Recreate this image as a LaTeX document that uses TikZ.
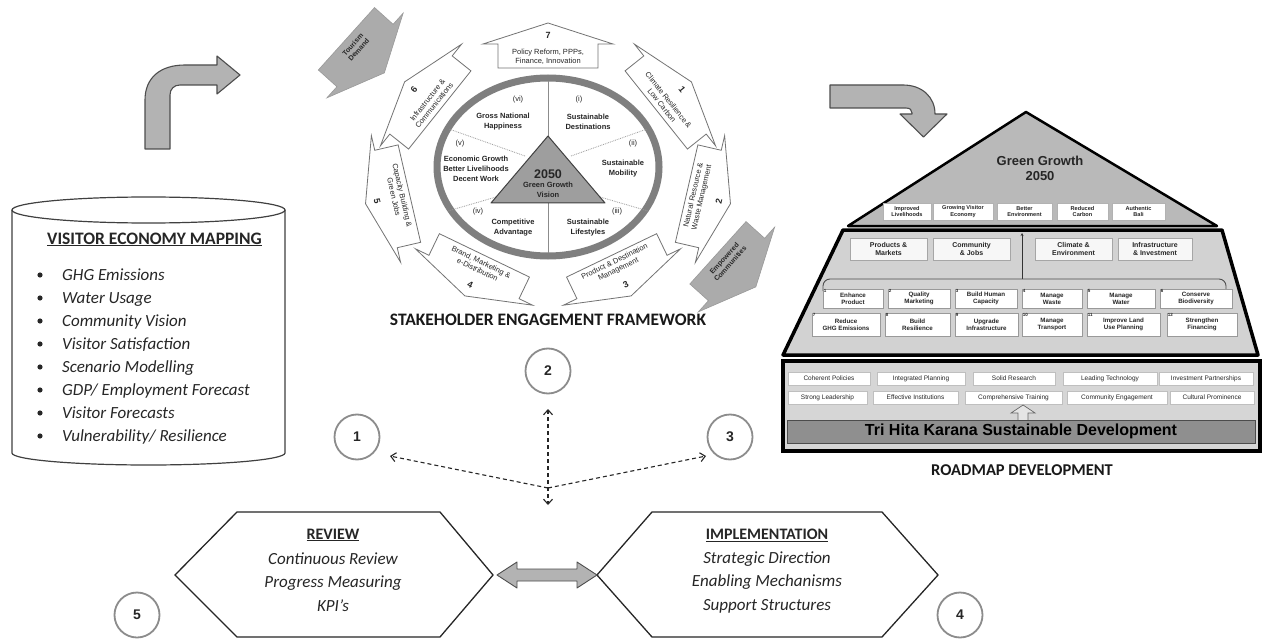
\documentclass[tikz,border=0pt]{standalone}
\usepackage{fontspec}
\setmainfont{Liberation Sans}
\newfontfamily\calib{Carlito}
\usetikzlibrary{arrows.meta}
\definecolor{txt}{HTML}{262626}
\definecolor{arrfill}{HTML}{B3B3B3}
\definecolor{arrline}{HTML}{4D4D4D}
\definecolor{ringc}{HTML}{7F7F7F}
\definecolor{trifill}{HTML}{B9B9B9}
\definecolor{trapfill}{HTML}{D2D2D2}
\definecolor{fndfill}{HTML}{D6D6D6}
\definecolor{bandfill}{HTML}{8F8F8F}
\newcommand{\myhup}[5]{\draw[#5] (-#1,#2) -- (-#1,0) -- (-#3,0) -- (0,-#4) -- (#3,0) -- (#1,0) -- (#1,#2) -- cycle;}
\newcommand{\myhdown}[5]{\draw[#5] (-#1,-#2) -- (-#1,0) -- (-#3,0) -- (0,#4) -- (#3,0) -- (#1,0) -- (#1,-#2) -- cycle;}
\begin{document}
\begin{tikzpicture}[x=1pt,y=-1pt,
  wbox/.style={draw=black!55, fill=white, line width=0.8pt},
  gbox/.style={draw=black!40, fill=black!33, line width=0.6pt},
  blockarr/.style={draw=arrline, fill=arrfill, line width=1.1pt, line join=round},
  btxt/.style={font=\fontsize{7.5}{8.6}\selectfont, align=center, inner sep=0pt, text=txt},
  bnum/.style={font=\bfseries\fontsize{9}{9}\selectfont, inner sep=0pt, text=txt},
  gtxt/.style={font=\bfseries\fontsize{7}{8}\selectfont, align=center, inner sep=0pt, text=txt},
  sect/.style={font=\bfseries\fontsize{7.5}{10}\selectfont, align=center, inner sep=0pt, text=txt},
  roman/.style={font=\fontsize{7.5}{8}\selectfont, inner sep=0pt, text=txt},
  cnum/.style={circle, draw=black!45, line width=1.8pt, minimum size=45pt, inner sep=0pt, font=\bfseries\fontsize{14}{14}\selectfont, text=txt},
  title/.style={font=\calib\bfseries\fontsize{17.5}{20}\selectfont, inner sep=0pt, text=black!90},
  bullet/.style={anchor=base west, font=\calib\itshape\fontsize{17}{20}\selectfont, inner sep=0pt, text=txt},
  hexa/.style={draw=black!85, line width=1.3pt, fill=white},
  dsh/.style={draw=black!85, line width=1.1pt, dash pattern=on 4pt off 3pt},
  dtip/.tip={Straight Barb[length=5pt,width=9pt]},
  cyl/.style={draw=black!75, line width=1.2pt, fill=white},
  smallbox/.style={draw=black!30, fill=white, inner sep=0pt, align=center, font=\bfseries\fontsize{5.6}{6.2}\selectfont, text=txt},
  capbox/.style={draw=black!35, fill=black!3, inner sep=0pt, align=center, font=\bfseries\fontsize{7}{8}\selectfont, text=txt},
  rbox/.style={draw=black!40, fill=white, inner sep=0pt, align=center, font=\bfseries\fontsize{6.2}{7}\selectfont, text=txt},
  numlab/.style={anchor=north west, inner sep=0.8pt, font=\bfseries\fontsize{4.5}{4.5}\selectfont, text=txt},
  fbox/.style={draw=black!25, fill=white, inner sep=0pt, font=\fontsize{6.5}{7}\selectfont, text=txt}
]
\useasboundingbox (0,0) rectangle (1263,639);
\fill[white] (0,0) rectangle (1263,639);
\begin{scope}
\clip (0,0) rectangle (1263,639);

% ---------------- block arrows top ----------------
\draw[blockarr] (145,149) -- (145,100) .. controls (145,78) and (160,65) .. (185,65) -- (217,65) -- (217,56) -- (240,75) -- (217,94) -- (217,85) -- (180,85) .. controls (174,85) and (170,89) .. (170,95) -- (170,149) -- cycle;
\draw[blockarr] (830,85) -- (903,85) .. controls (922,85) and (935,97) .. (935,114) -- (947,114) -- (923.5,137) -- (900,114) -- (912,114) -- (912,113) .. controls (912,110) and (910,108) .. (906,108) -- (830,108) -- cycle;

% ---------------- cylinder ----------------
\draw[cyl] (12,210) -- (12,453) arc[start angle=180, end angle=0, x radius=136.5, y radius=12] -- (285,210);
\draw[cyl] (148.5,210) ellipse [x radius=136.5, y radius=13];
\node[anchor=base west, font=\calib\bfseries\fontsize{17.5}{20}\selectfont, inner sep=0pt, text=txt] (vem) at (47,244) {\underline{VISITOR ECONOMY MAPPING}};
\foreach \t [count=\i] in {GHG Emissions, Water Usage, Community Vision, Visitor Satisfaction, Scenario Modelling, GDP/ Employment Forecast, Visitor Forecasts, Vulnerability/ Resilience}{
  \node[bullet] (v\i) at (62,{280.5+23*(\i-1)}) {\t};
  \fill[txt] (40,{275+23*(\i-1)}) circle[radius=2.6];
}

% ---------------- wheel ----------------
\fill[white] (548,167) ellipse [x radius=111, y radius=89];
\draw[ringc, line width=7pt] (548,167) ellipse [x radius=111, y radius=89];
\draw[black!45, line width=0.9pt] (548,81) -- (548,136);
\draw[black!45, line width=0.9pt] (548,203) -- (548,253);
\draw[black!40, densely dotted, line width=0.8pt] (525,156) -- (449,129);
\draw[black!40, densely dotted, line width=0.8pt] (571,156) -- (647,129);
\draw[black!40, densely dotted, line width=0.8pt] (496,197) -- (448,211);
\draw[black!40, densely dotted, line width=0.8pt] (600,197) -- (648,211);
\draw[draw=black!75, fill=black!38, line width=1pt, line join=round] (548,136) -- (605,203) -- (491,203) -- cycle;
\node[font=\bfseries\fontsize{12.5}{13}\selectfont, inner sep=0pt, text=txt] (vyear) at (548,174) {2050};
\node[sect] (vis) at (548,190) {Green Growth\\Vision};

\node[roman] (r6) at (518,100) {(vi)};
\node[sect] (s6) at (503,122) {Gross National\\Happiness};
\node[roman] (r1) at (579,100) {(i)};
\node[sect] (s1) at (588,122) {Sustainable\\Destinations};
\node[roman] (r2) at (633,144) {(ii)};
\node[sect] (s2) at (623,169) {Sustainable\\Mobility};
\node[roman] (r3) at (617,212) {(iii)};
\node[sect] (s3) at (588,228) {Sustainable\\Lifestyles};
\node[roman] (r4) at (478,212) {(iv)};
\node[sect] (s4) at (513,228) {Competitive\\Advantage};
\node[roman] (r5) at (460,144) {(v)};
\node[sect] (s5) at (476,169) {Economic Growth\\Better Livelihoods\\Decent Work};

% ---------------- outer arrow boxes ----------------
\begin{scope}[shift={(548,44)}]
  \myhup{50}{24}{65}{21}{wbox}
  \node[bnum] (n7) at (0,-9) {7};
  \node[btxt] (b7) at (0,12.5) {Policy Reform, PPPs,\\Finance, Innovation};
\end{scope}
\begin{scope}[shift={(675,95)}, rotate=-51.4, transform shape]
  \myhup{50}{24}{65}{21}{wbox}
  \node[bnum] (n1) at (0,-9) {1};
  \node[btxt] (b1) at (0,12.5) {Climate Resilience \&\\Low Carbon};
\end{scope}
\begin{scope}[shift={(421,95)}, rotate=51.4, transform shape]
  \myhup{50}{24}{65}{21}{wbox}
  \node[bnum] (n6) at (0,-9) {6};
  \node[btxt] (b6) at (0,12.5) {Infrastructure \&\\Communications};
\end{scope}
\begin{scope}[shift={(710,199)}, rotate=77, transform shape]
  \myhdown{50}{24}{65}{21}{wbox}
  \node[bnum] (n2) at (0,9) {2};
  \node[btxt] (b2) at (0,-12.5) {Natural Resource \&\\Waste Management};
\end{scope}
\begin{scope}[shift={(386,199)}, rotate=-77, transform shape]
  \myhdown{50}{24}{65}{21}{wbox}
  \node[bnum] (n5) at (0,9) {5};
  \node[btxt] (b5) at (0,-12.5) {Capacity Building \&\\Green Jobs};
\end{scope}
\begin{scope}[shift={(622,277)}, rotate=25.7, transform shape]
  \myhdown{50}{24}{65}{21}{wbox}
  \node[bnum] (n3) at (0,9) {3};
  \node[btxt] (b3) at (0,-12.5) {Product \& Destination\\Management};
\end{scope}
\begin{scope}[shift={(474,277)}, rotate=-25.7, transform shape]
  \myhdown{50}{24}{65}{21}{wbox}
  \node[bnum] (n4) at (0,9) {4};
  \node[btxt] (b4) at (0,-12.5) {Brand, Marketing \&\\e-Distribution};
\end{scope}

% gray arrows
\begin{scope}[shift={(365,55.5)}, rotate=48, transform shape]
  \myhdown{42}{25}{57}{26}{gbox}
  \node[gtxt] (tour) at (0,-12.5) {Tourism\\Demand};
\end{scope}
\begin{scope}[shift={(736.5,269.5)}, rotate=48, transform shape]
  \myhdown{42}{25}{57}{26}{gbox}
  \node[gtxt] (emp) at (0,-12.5) {Empowered\\Communities};
\end{scope}

\node[title] (sef) at (548,320) {STAKEHOLDER ENGAGEMENT FRAMEWORK};

% ---------------- pyramid ----------------
\draw[draw=black, fill=trifill, line width=2.5pt, line join=round] (1026,112) -- (1217,226) -- (848,226) -- cycle;
\node[font=\bfseries\fontsize{13}{15}\selectfont, align=center, inner sep=0pt, text=txt] (gg) at (1040,168) {Green Growth\\2050};
\node[smallbox, minimum width=48pt, minimum height=17pt] (t1) at (907,211.5) {Improved\\Livelihoods};
\node[smallbox, minimum width=60pt, minimum height=17pt] (t2) at (963,211.5) {Growing Visitor\\Economy};
\node[smallbox, minimum width=55pt, minimum height=17pt] (t3) at (1024.5,211.5) {Better\\Environment};
\node[smallbox, minimum width=51pt, minimum height=17pt] (t4) at (1082.5,211.5) {Reduced\\Carbon};
\node[smallbox, minimum width=53pt, minimum height=17pt] (t5) at (1138.5,211.5) {Authentic\\Bali};

\draw[draw=black, fill=trapfill, line width=3.5pt, line join=round] (843,230) -- (1222,230) -- (1258,355) -- (783,355) -- cycle;
\node[capbox, minimum width=77pt, minimum height=22pt] (pm) at (888.5,249) {Products \&\\Markets};
\node[capbox, minimum width=77pt, minimum height=22pt] (cj) at (971.5,249) {Community\\\& Jobs};
\node[capbox, minimum width=77pt, minimum height=22pt] (ce) at (1073.5,249) {Climate \&\\Environment};
\node[capbox, minimum width=74pt, minimum height=22pt] (ii) at (1155,249) {Infrastructure\\\& Investment};
\coordinate (vb) at (1022,279);
\coordinate (vt) at (1022,233);
\draw[black!80, line width=0.8pt, -{Stealth[length=3pt,width=3pt]}] (vb) -- (vt);
\draw[black!70, line width=0.9pt, rounded corners=7pt] (823,291) -- (823,279) -- (1226,279) -- (1226,291);

\node[rbox, minimum width=60pt, minimum height=19pt, label={[numlab]north west:1}] (a1) at (853,298.5) {Enhance\\Product};
\node[rbox, minimum width=62pt, minimum height=19pt, label={[numlab]north west:2}] (a2) at (919,298.5) {Quality\\Marketing};
\node[rbox, minimum width=62pt, minimum height=19pt, label={[numlab]north west:3}] (a3) at (986,298.5) {Build Human\\Capacity};
\node[rbox, minimum width=60pt, minimum height=19pt, label={[numlab]north west:4}] (a4) at (1052,298.5) {Manage\\Waste};
\node[rbox, minimum width=68pt, minimum height=19pt, label={[numlab]north west:5}] (a5) at (1121,298.5) {Manage\\Water};
\node[rbox, minimum width=72pt, minimum height=19pt, label={[numlab]north west:6}] (a6) at (1196,298.5) {Conserve\\Biodiversity};
\node[rbox, minimum width=68pt, minimum height=23pt, label={[numlab]north west:7}] (a7) at (846,324.5) {Reduce\\GHG Emissions};
\node[rbox, minimum width=65pt, minimum height=23pt, label={[numlab]north west:8}] (a8) at (917.5,324.5) {Build\\Resilience};
\node[rbox, minimum width=63pt, minimum height=23pt, label={[numlab]north west:9}] (a9) at (986.5,324.5) {Upgrade\\Infrastructure};
\node[rbox, minimum width=60pt, minimum height=23pt, label={[numlab]north west:10}] (a10) at (1052,324.5) {Manage\\Transport};
\node[rbox, minimum width=73pt, minimum height=23pt, label={[numlab]north west:11}] (a11) at (1123.5,324.5) {Improve Land\\Use Planning};
\node[rbox, minimum width=70pt, minimum height=23pt, label={[numlab]north west:12}] (a12) at (1202,324.5) {Strengthen\\Financing};

% foundation
\draw[draw=black, fill=fndfill, line width=3.5pt] (783,361) rectangle (1260,451);
\node[fbox, minimum width=82pt, minimum height=13pt] (f1) at (829,378.5) {Coherent Policies};
\node[fbox, minimum width=88pt, minimum height=13pt] (f2) at (921,378.5) {Integrated Planning};
\node[fbox, minimum width=82pt, minimum height=13pt] (f3) at (1014,378.5) {Solid Research};
\node[fbox, minimum width=94pt, minimum height=13pt] (f4) at (1110,378.5) {Leading Technology};
\node[fbox, minimum width=94pt, minimum height=13pt] (f5) at (1206,378.5) {Investment Partnerships};
\node[fbox, minimum width=79pt, minimum height=13pt] (f6) at (827.5,397.5) {Strong Leadership};
\node[fbox, minimum width=85pt, minimum height=13pt] (f7) at (915.5,397.5) {Effective Institutions};
\node[fbox, minimum width=97pt, minimum height=13pt] (f8) at (1013.5,397.5) {Comprehensive Training};
\node[fbox, minimum width=100pt, minimum height=13pt] (f9) at (1117,397.5) {Community Engagement};
\node[fbox, minimum width=84pt, minimum height=13pt] (f10) at (1212,397.5) {Cultural Prominence};
\draw[draw=black!60, fill=black!10, line width=0.7pt] (1018,421) -- (1018,413) -- (1011,413) -- (1023,405) -- (1035,413) -- (1028,413) -- (1028,421) -- cycle;
\node[draw=black!70, fill=bandfill, line width=1pt, minimum width=468pt, minimum height=23pt, inner sep=0pt, font=\bfseries\fontsize{16}{16}\selectfont, text=black] (thk) at (1021,431.5) {Tri Hita Karana Sustainable Development};
\node[font=\calib\bfseries\fontsize{16.5}{18}\selectfont, inner sep=0pt, text=black!90] (rd) at (1022,470) {ROADMAP DEVELOPMENT};

% ---------------- numbered circles ----------------
\node[cnum] (c1) at (357,437) {1};
\node[cnum] (c2) at (548,371) {2};
\node[cnum] (c3) at (730,437) {3};
\node[cnum] (c4) at (960,615) {4};
\node[cnum] (c5) at (137,615) {5};

% ---------------- dashed connectors ----------------
\coordinate (hub) at (548,488);
\coordinate (dl) at (390,456);
\coordinate (dr) at (706,456);
\coordinate (dt) at (548,409);
\coordinate (db) at (548,505);
\draw[dsh, -dtip] (hub) -- (dl);
\draw[dsh, -dtip] (hub) -- (dr);
\draw[dsh, dtip-dtip] (dt) -- (db);

% ---------------- hexagons ----------------
\draw[hexa] (175,575) -- (237,512) -- (440,512) -- (493,575) -- (440,637) -- (237,637) -- cycle;
\draw[hexa] (597,575) -- (652,512) -- (882,512) -- (938,575) -- (882,637) -- (652,637) -- cycle;
\node[font=\calib\bfseries\fontsize{16}{18}\selectfont, inner sep=0pt, text=txt] (revt) at (333,535) {\underline{REVIEW}};
\node[font=\calib\itshape\fontsize{17}{23.5}\selectfont, align=center, inner sep=0pt, text=txt] (revl) at (333,582) {Continuous Review\\Progress Measuring\\KPI’s};
\node[font=\calib\bfseries\fontsize{16}{18}\selectfont, inner sep=0pt, text=txt] (impt) at (767,535) {\underline{IMPLEMENTATION}};
\node[font=\calib\itshape\fontsize{17}{23.5}\selectfont, align=center, inner sep=0pt, text=txt] (impl) at (767,582) {Strategic Direction\\Enabling Mechanisms\\Support Structures};
\draw[blockarr, line width=0.9pt] (497,575) -- (517,562) -- (517,569) -- (577,569) -- (577,562) -- (597,575) -- (577,588) -- (577,581) -- (517,581) -- (517,588) -- cycle;
\end{scope}
\end{tikzpicture}
\end{document}
